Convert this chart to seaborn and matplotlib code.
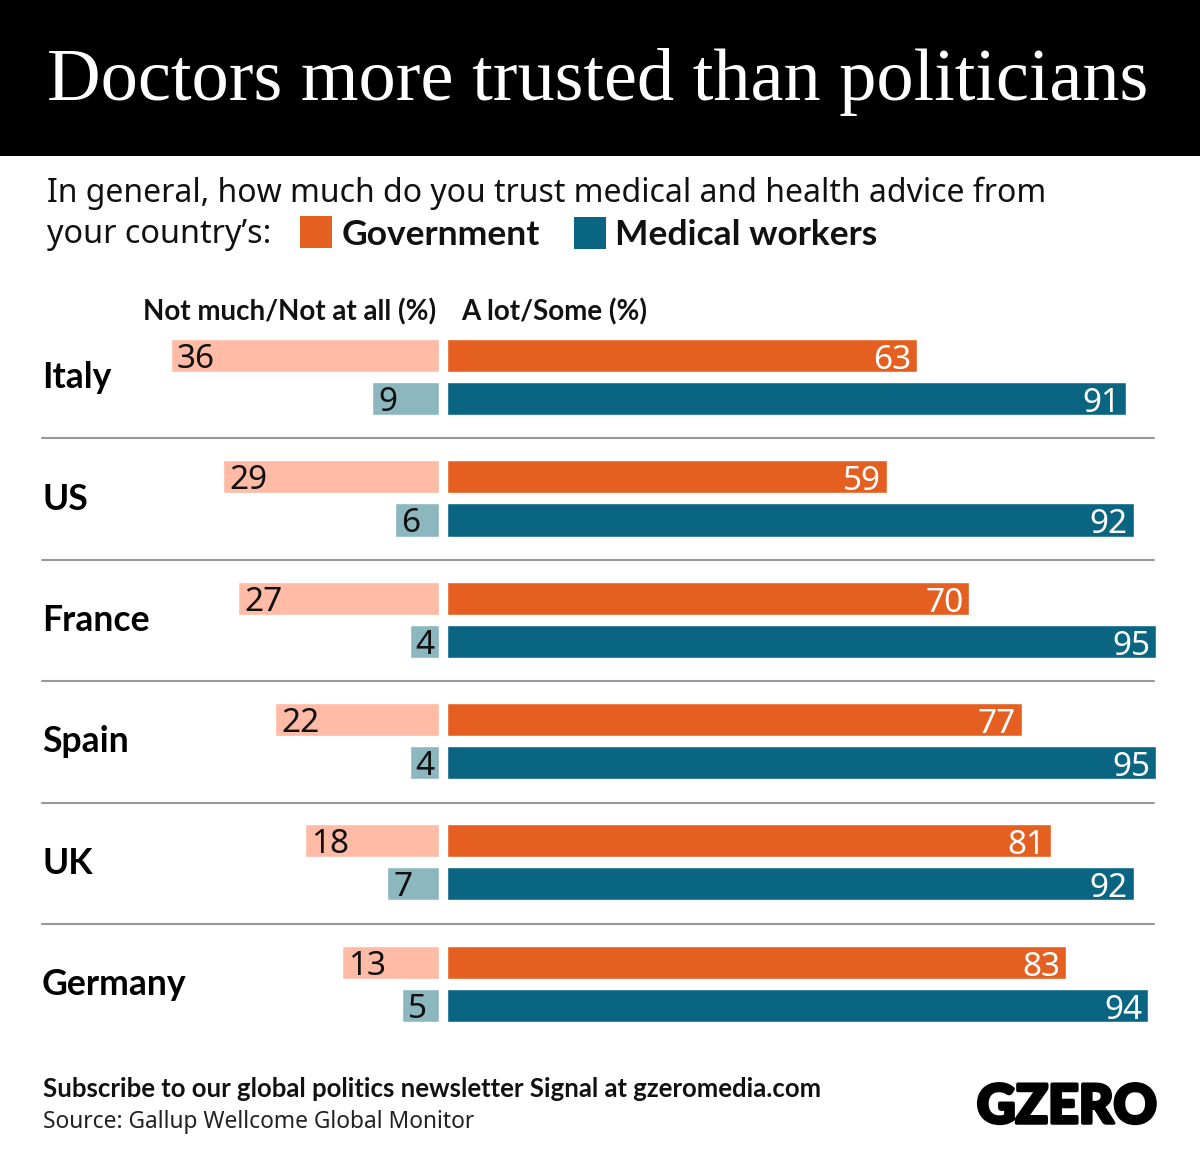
import pandas as pd
import seaborn as sns
import matplotlib.pyplot as plt
import matplotlib.patheffects as pe
from matplotlib.patches import Rectangle

countries = ['Italy', 'US', 'France', 'Spain', 'UK', 'Germany']
gov_trust = [63, 59, 70, 77, 81, 83]
med_trust = [91, 92, 95, 95, 92, 94]
gov_distrust = [36, 29, 27, 22, 18, 13]
med_distrust = [9, 6, 4, 4, 7, 5]

W, H = 1200, 1164
SANS = 'Noto Sans'
BOLD = 'Lato'
SERIF = 'Liberation Serif'
ORANGE = '#e56020'
TEAL = '#0a6582'
LIGHT_ORANGE = '#ffbba5'
LIGHT_TEAL = '#8cb7be'
PX_PER_UNIT = 7.46

sns.set_theme(style='white')
plt.rcParams['font.family'] = [SANS, 'DejaVu Sans']


def fx(px):
    return px / W


def fy(px):
    return 1 - px / H


def frame(series_a, series_b):
    df = pd.DataFrame({'country': countries * 2,
                       'value': series_a + series_b,
                       'group': ['gov'] * 6 + ['med'] * 6})
    return df


def add_axes(fig, left, right):
    top, bottom = 316.5, 1044.3
    return fig.add_axes([fx(left), fy(bottom), fx(right - left), (bottom - top) / H])


def draw_bars(ax, df, colors, xlim):
    sns.barplot(data=df, x='value', y='country', hue='group', palette=colors,
                width=0.71, gap=0.23, saturation=1, legend=False, ax=ax)
    ax.set_xlim(*xlim)
    ax.set_ylim(5.5, -0.5)
    ax.axis('off')


fig = plt.figure(figsize=(W / 100, H / 100), dpi=100, facecolor='white')

# header band
fig.patches.append(Rectangle((0, fy(156)), 1, 156 / H, transform=fig.transFigure,
                             facecolor='black', edgecolor='none'))
fig.text(fx(47), fy(100), 'Doctors more trusted than politicians', color='white',
         family=SERIF, fontsize=53.45, va='baseline', ha='left')

# bars
ax_left = add_axes(fig, 139.4, 439.4)
draw_bars(ax_left, frame(gov_distrust, med_distrust), [LIGHT_ORANGE, LIGHT_TEAL],
          (300 / PX_PER_UNIT, 0))
ax_right = add_axes(fig, 447.2, 1159.2)
draw_bars(ax_right, frame(gov_trust, med_trust), [ORANGE, TEAL], (0, 712 / PX_PER_UNIT))

for container in ax_left.containers:
    for bar in container:
        value = bar.get_width()
        y = bar.get_y() + bar.get_height() / 2
        ax_left.annotate(f'{value:.0f}', (value, y), xytext=(6, -4), textcoords='offset pixels',
                         ha='left', va='center', fontsize=24, color='#111111')

for container in ax_right.containers:
    for bar in container:
        value = bar.get_width()
        y = bar.get_y() + bar.get_height() / 2
        ax_right.annotate(f'{value:.0f}', (value, y), xytext=(-6, -5), textcoords='offset pixels',
                          ha='right', va='center', fontsize=24, color='white')

# row names and separators
for i, name in enumerate(countries):
    y_px = 378 + i * 121.3
    fig.text(fx(42), fy(y_px), name, family=BOLD, fontsize=25.6, fontweight='bold', color='black',
             ha='left', va='center')
    if i < 5:
        y_line = 438 + i * 121.5
        fig.add_artist(plt.Line2D([fx(42), fx(1154)], [fy(y_line), fy(y_line)],
                                  color='#999999', lw=1.5))

# question and key
fig.text(fx(47), fy(193), 'In general, how much do you trust medical and health advice from',
         fontsize=23, color='#111111', va='center', ha='left')
fig.text(fx(47), fy(235), 'your country’s:', fontsize=23.3, color='#111111', va='center', ha='left')
fig.patches.append(Rectangle((fx(300), fy(248)), 32 / W, 32 / H, transform=fig.transFigure,
                             facecolor=ORANGE, edgecolor='none'))
fig.text(fx(342), fy(235), 'Government', family=BOLD, fontsize=25.5, fontweight='bold', color='#111111',
         va='center', ha='left')
fig.patches.append(Rectangle((fx(574), fy(249)), 32 / W, 32 / H, transform=fig.transFigure,
                             facecolor=TEAL, edgecolor='none'))
fig.text(fx(615), fy(235), 'Medical workers', family=BOLD, fontsize=25.5, fontweight='bold', color='#111111',
         va='center', ha='left')

# column heads
fig.text(fx(436), fy(312), 'Not much/Not at all (%)', family=BOLD, fontsize=20, fontweight='bold',
         color='#111111', ha='right', va='center')
fig.text(fx(461), fy(312), 'A lot/Some (%)', family=BOLD, fontsize=20, fontweight='bold',
         color='#111111', ha='left', va='center')

# footer
fig.text(fx(43), fy(1089), 'Subscribe to our global politics newsletter Signal at gzeromedia.com',
         family=BOLD, fontsize=18.5, fontweight='bold', color='#111111', ha='left', va='center')
fig.text(fx(43), fy(1122), 'Source: Gallup Wellcome Global Monitor', fontsize=16.4,
         color='#222222', ha='left', va='center')
logo = fig.text(fx(1157), fy(1123), 'GZERO', family=BOLD, fontsize=38.5, fontweight='black',
                color='black', ha='right', va='baseline')
logo.set_path_effects([pe.withStroke(linewidth=2.5, foreground='black')])

fig.savefig('out.png', dpi=100)
